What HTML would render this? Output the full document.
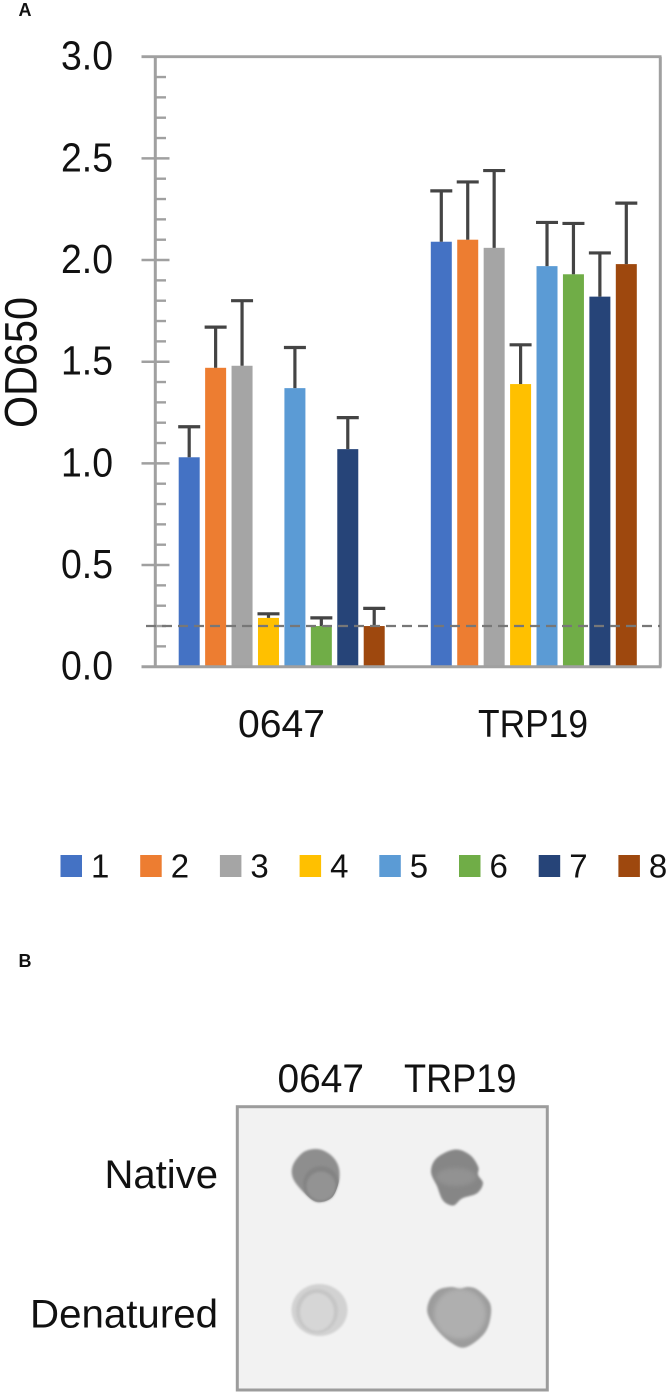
<!DOCTYPE html>
<html lang="en">
<head>
<meta charset="utf-8">
<title>OD650 bar chart and dot blot</title>
<style>
html,body{margin:0;padding:0;background:#fff;}
#figure{display:block;width:669px;height:1396px;}
text{font-family:"Liberation Sans",sans-serif;fill:#111;}
</style>
</head>
<body>
<svg id="figure" xmlns="http://www.w3.org/2000/svg" width="669" height="1396" viewBox="0 0 669 1396">
  <defs>
    <filter id="soft" x="-20%" y="-20%" width="140%" height="140%"><feGaussianBlur stdDeviation="1"/></filter>
    <filter id="softer" x="-30%" y="-30%" width="160%" height="160%"><feGaussianBlur stdDeviation="2"/></filter>
    <clipPath id="clip-tl"><path id="clip-tl-path" d=""/></clipPath>
  </defs>

  <text x="18.5" y="16" font-size="18" font-weight="700">A</text>
  <g id="chart"></g>
  <g id="legend"></g>

  <text x="18.5" y="967" font-size="18" font-weight="700">B</text>

  <g>
    <text x="277.5" y="1092" font-size="40" textLength="86.5" lengthAdjust="spacingAndGlyphs">0647</text>
    <text x="404" y="1092" font-size="40" textLength="112.5" lengthAdjust="spacingAndGlyphs">TRP19</text>
    <text x="104.5" y="1188" font-size="40" textLength="113.5" lengthAdjust="spacingAndGlyphs">Native</text>
    <text x="30" y="1327.5" font-size="40" textLength="188" lengthAdjust="spacingAndGlyphs">Denatured</text>
    <rect x="237.3" y="1106.7" width="310" height="283.3" fill="#f2f2f2" stroke="#9c9c9c" stroke-width="3"/>

    <g>
      <path id="dot-tl" filter="url(#soft)" fill="#8e8e8e" d=""/>
      <g clip-path="url(#clip-tl)">
        <circle cx="321" cy="1184" r="18" fill="#848484" filter="url(#soft)"/>
        <circle cx="321" cy="1186" r="14.5" fill="#939393" filter="url(#soft)"/>
      </g>
    </g>

    <g>
      <path id="dot-tr" filter="url(#soft)" fill="#868686" d=""/>
      <ellipse cx="456" cy="1177" rx="20" ry="9" fill="#929292" filter="url(#softer)"/>
    </g>

    <g>
      <ellipse cx="319.5" cy="1310" rx="28" ry="26" fill="#d2d2d2" filter="url(#soft)"/>
      <ellipse cx="317" cy="1311" rx="21" ry="22" fill="#c6c6c6" filter="url(#soft)"/>
      <ellipse cx="317" cy="1312" rx="17" ry="19" fill="#d6d6d6" filter="url(#soft)"/>
    </g>

    <g>
      <path id="dot-br" filter="url(#soft)" fill="#9c9c9c" d=""/>
      <ellipse cx="460" cy="1314" rx="26" ry="25" fill="#afafaf" filter="url(#softer)"/>
    </g>
  </g>
</svg>

<script>
var categories = ["0647", "TRP19"];
var seriesNames = ["1", "2", "3", "4", "5", "6", "7", "8"];
var seriesColors = ["#4472c4", "#ed7d31", "#a5a5a5", "#ffc000", "#5b9bd5", "#70ad47", "#264478", "#9e480e"];
var values0647 = [1.03, 1.47, 1.48, 0.24, 1.37, 0.20, 1.07, 0.20];
var valuesTRP19 = [2.09, 2.10, 2.06, 1.39, 1.97, 1.93, 1.82, 1.98];
var errors0647 = [0.15, 0.20, 0.32, 0.02, 0.20, 0.04, 0.155, 0.087];
var errorsTRP19 = [0.25, 0.284, 0.38, 0.193, 0.215, 0.25, 0.215, 0.30];
var yTickLabels = ["0.0", "0.5", "1.0", "1.5", "2.0", "2.5", "3.0"];
var cutoffValue = 0.2;
var yAxisMax = 3.0;
var minorPerMajor = 5;

var NS = "http://www.w3.org/2000/svg";
var chart = document.getElementById("chart");
var legend = document.getElementById("legend");

function y(v) { return 666.7 - (v / yAxisMax) * 610; }
function groupCenter(g) { return 281.7 + g * 252.1; }
function barCenter(g, s) { return groupCenter(g) + (s - (seriesNames.length - 1) / 2) * 26.43; }

function make(tag, parent, attrs) {
  var el = document.createElementNS(NS, tag);
  for (var k in attrs) { el.setAttribute(k, attrs[k]); }
  parent.appendChild(el);
  return el;
}

// smooth closed outline for the blot dots
function smoothPath(p) {
  var n = p.length;
  var d = "M" + p[0][0] + "," + p[0][1];
  for (var i = 0; i < n; i++) {
    var a = p[(i - 1 + n) % n], b = p[i], c = p[(i + 1) % n], e = p[(i + 2) % n];
    var c1x = b[0] + (c[0] - a[0]) / 6, c1y = b[1] + (c[1] - a[1]) / 6;
    var c2x = c[0] - (e[0] - b[0]) / 6, c2y = c[1] - (e[1] - b[1]) / 6;
    d += "C" + c1x.toFixed(1) + "," + c1y.toFixed(1) + " " + c2x.toFixed(1) + "," + c2y.toFixed(1) + " " + c[0] + "," + c[1];
  }
  return d + "Z";
}
var outlineTL = [[316.7,1149],[328,1153],[336,1161],[339.5,1171.7],[338,1185],[331,1198.3],[316.7,1202],[303.3,1192],[293,1178.3],[293,1165],[303.3,1152.3]];
var outlineTR = [[455,1149.5],[470,1155],[478.3,1167],[478,1175],[483,1183.3],[477,1193.3],[462,1198.5],[453.3,1205.5],[443,1200.5],[437,1186],[431,1171.7],[436.7,1158]];
var outlineBR = [[451,1287],[460,1289],[468,1287],[478,1290],[490,1303.3],[490,1320],[483,1335],[465,1347.5],[450,1342],[436,1328.3],[427.5,1313.3],[429.5,1300],[438,1290]];
document.getElementById("dot-tl").setAttribute("d", smoothPath(outlineTL));
document.getElementById("clip-tl-path").setAttribute("d", smoothPath(outlineTL));
document.getElementById("dot-tr").setAttribute("d", smoothPath(outlineTR));
document.getElementById("dot-br").setAttribute("d", smoothPath(outlineBR));

var axisColor = "#a0a0a0";

// minor ticks
var majorCount = yTickLabels.length - 1;
for (var m = 0; m <= majorCount * minorPerMajor; m++) {
  if (m % minorPerMajor === 0) { continue; }
  var mv = m / minorPerMajor * (yAxisMax / majorCount);
  var minor = make("line", chart, { x1: 155.3, x2: 166, y1: y(mv), y2: y(mv), stroke: axisColor, "stroke-width": 2.4 });
  
  
}

// major ticks and labels
yTickLabels.forEach(function (label) {
  var v = parseFloat(label);
  var isEnd = v === yAxisMax || v === 0;
  if (!isEnd) {
    var tick = make("line", chart, { x1: 141.5, x2: 169.5, y1: y(v), y2: y(v), stroke: axisColor, "stroke-width": 2.5 });
    
    
  }
  var t = make("text", chart, { x: 113, y: y(v) + 13, "font-size": 41, "text-anchor": "end", textLength: 52, lengthAdjust: "spacingAndGlyphs" });
  t.textContent = label;
  
  
});

// axis title
var yTitle = make("text", chart, { transform: "translate(36.3,362.5) rotate(-90)", "font-size": 45, "text-anchor": "middle", textLength: 131, lengthAdjust: "spacingAndGlyphs" });
yTitle.textContent = "OD650";



// bars and error bars
[values0647, valuesTRP19].forEach(function (vals, g) {
  var errs = g === 0 ? errors0647 : errorsTRP19;
  vals.forEach(function (v, s) {
    var cx = barCenter(g, s);
    var bar = make("rect", chart, { x: cx - 10.5, y: y(v), width: 21, height: y(0) - y(v), fill: seriesColors[s] });
    
    
    var top = y(v + errs[s]);
    var stem = make("line", chart, { x1: cx, x2: cx, y1: y(v), y2: top, stroke: "#444", "stroke-width": 3.2 });
    
    
    var cap = make("line", chart, { x1: cx - 11, x2: cx + 11, y1: top, y2: top, stroke: "#444", "stroke-width": 3.2 });
    
    
  });
});

// axes frame
var yAxis = make("line", chart, { x1: 155.3, x2: 155.3, y1: y(yAxisMax), y2: y(0), stroke: axisColor, "stroke-width": 3 });


var topLine = make("line", chart, { x1: 141.5, x2: 661.5, y1: y(yAxisMax), y2: y(yAxisMax), stroke: axisColor, "stroke-width": 2.8 });


var rightLine = make("line", chart, { x1: 660.3, x2: 660.3, y1: y(yAxisMax), y2: y(0), stroke: axisColor, "stroke-width": 3 });


var xAxis = make("line", chart, { x1: 141.5, x2: 661.5, y1: y(0), y2: y(0), stroke: axisColor, "stroke-width": 3 });



// cutoff line
var cutoff = make("line", chart, { x1: 146, x2: 660, y1: y(cutoffValue), y2: y(cutoffValue), stroke: "#777", "stroke-width": 2.2, "stroke-dasharray": "10 6" });



// category labels
var catStart = [238, 478];
var catLen = [87, 110];
categories.forEach(function (c, g) {
  var t = make("text", chart, { x: catStart[g], y: 737, "font-size": 39, textLength: catLen[g], lengthAdjust: "spacingAndGlyphs" });
  t.textContent = c;
  
  
});

// legend
seriesNames.forEach(function (name, i) {
  var lx = 60.5 + i * 79.7;
  var entry = make("g", legend, {});
  
  
  var sw = make("rect", entry, { x: lx, y: 855, width: 21.5, height: 22, fill: seriesColors[i] });
  
  
  var lab = make("text", entry, { x: lx + 30.5, y: 877.5, "font-size": 33 });
  lab.textContent = name;
  
  
});
</script>
</body>
</html>
